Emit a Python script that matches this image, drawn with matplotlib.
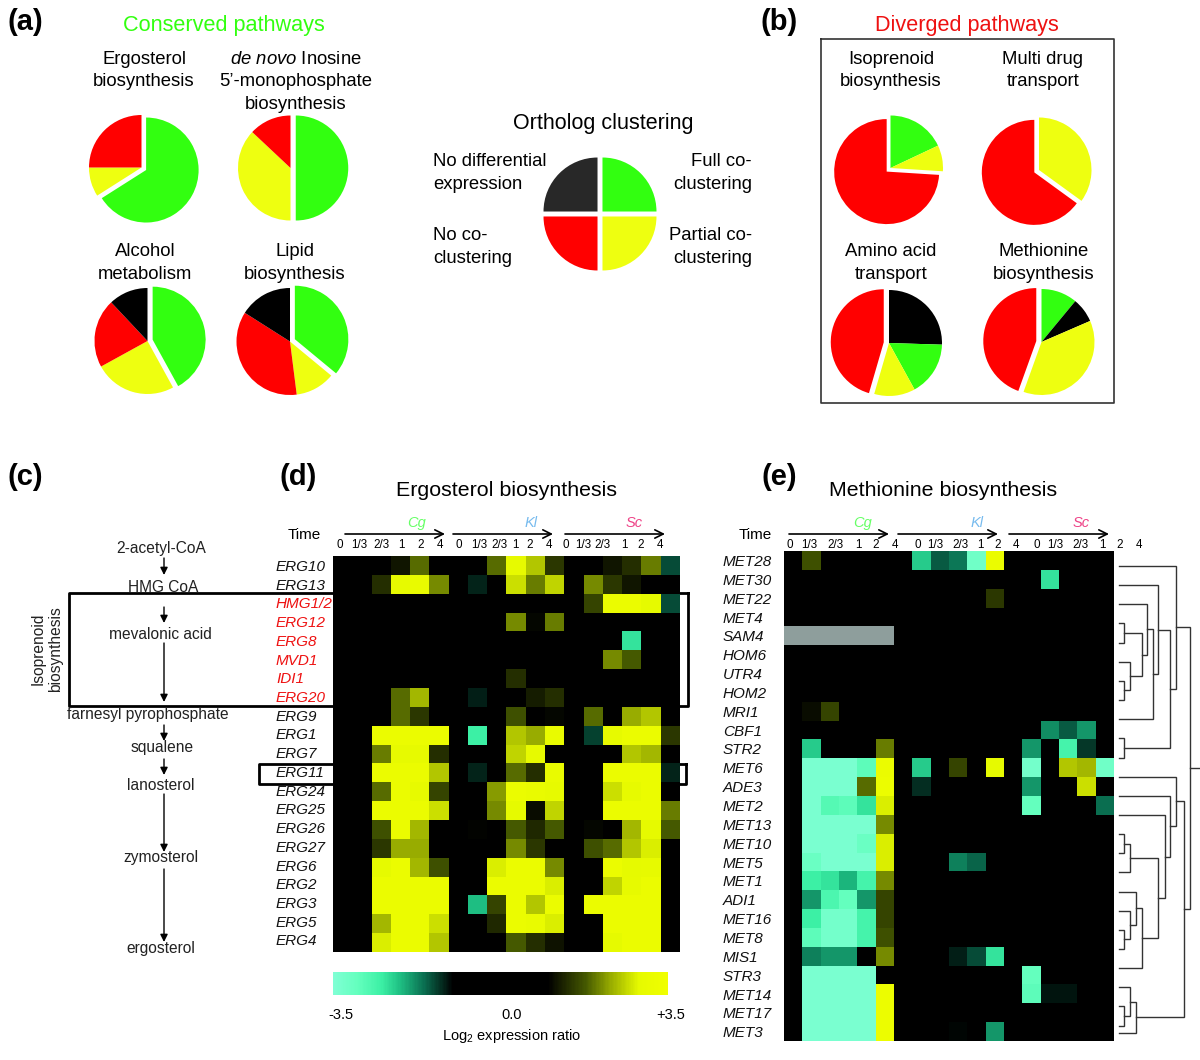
import numpy as np
import matplotlib
matplotlib.use("Agg")
import matplotlib.pyplot as plt
from matplotlib.cm import ScalarMappable
from matplotlib.colors import LinearSegmentedColormap, Normalize

plt.rcParams['font.family'] = ['Liberation Sans', 'DejaVu Sans']
plt.rcParams['mathtext.fontset'] = 'custom'
plt.rcParams['mathtext.rm'] = 'Liberation Sans'
plt.rcParams['mathtext.it'] = 'Liberation Sans:italic'
plt.rcParams['mathtext.bf'] = 'Liberation Sans:bold'

W, H = 1200, 1060

# ===== Data =====
GREEN, YELLOW, RED, BLACK = '#32FF10', '#EEFF10', '#FF0000', '#000000'

ergosterol_pie = [66, 9, 25]
inosine_pie = [50, 37, 13]
alcohol_pie = [42, 25, 21, 12]
lipid_pie = [36, 12, 36, 16]
isoprenoid_pie = [18, 8, 74]
multidrug_pie = [35, 65]
amino_pie = [25.5, 16.5, 12.5, 45.5]
methionine_pie = [11, 7.5, 37, 44.5]
legend_pie = [25, 25, 25, 25]

time_labels = ['0', '1/3', '2/3', '1', '2', '4'] * 3

erg_genes = ['ERG10', 'ERG13', 'HMG1/2', 'ERG12', 'ERG8', 'MVD1', 'IDI1', 'ERG20', 'ERG9', 'ERG1', 'ERG7',
             'ERG11', 'ERG24', 'ERG25', 'ERG26', 'ERG27', 'ERG6', 'ERG2', 'ERG3', 'ERG5', 'ERG4']
erg_red_genes = ['HMG1/2', 'ERG12', 'ERG8', 'MVD1', 'IDI1', 'ERG20']
erg_values = [
    [0, 0, 0, 1.2, 1.9, 0, 0, 0, 1.9, 3.0, 2.5, 1.5, 0, 0, 1.2, 1.4, 2.0, -1.4],
    [0, 0, 1.4, 3.0, 3.1, 2.1, 0, -1.2, 0, 2.7, 2.0, 2.6, 0, 2.1, 1.5, 1.2, 0, 0],
    [0, 0, 0, 0, 0, 0, 0, 0, 0, 0, 0, 0, 0, 1.6, 3.2, 3.2, 2.9, -1.4],
    [0, 0, 0, 0, 0, 0, 0, 0, 0, 2.1, 1.05, 2.0, 0, 0, 0, 0, 0, 0],
    [0, 0, 0, 0, 0, 0, 0, 0, 0, 0, 0, 0, 0, 0, 0, -2.4, 0, 0],
    [0, 0, 0, 0, 0, 0, 0, 0, 0, 0, 0, 0, 0, 0, 2.1, 1.8, 0, 0],
    [0, 0, 0, 0, 0, 0, 0, 0, 0, 1.4, 0, 0, 0, 0, 0, 0, 0, 0],
    [0, 0, 0, 1.9, 2.4, 0, 0, -1.15, 0, 0, 1.25, 1.4, 0, 0, 0, 0, 0, 0],
    [0, 0, 0, 1.9, 1.5, 0, 0, 0, 0, 1.7, 0, 1.05, 0, 1.9, 0, 2.3, 2.5, 0],
    [0, 0, 3.2, 3.2, 3.2, 3.2, 0, -2.5, 0, 2.5, 2.3, 3.1, 0, -1.35, 3.0, 3.2, 3.2, 1.5],
    [0, 0, 2.0, 3.0, 3.0, 1.4, 0, 0, 0, 2.6, 3.0, 0, 0, 0, 0, 2.5, 2.4, 0],
    [0, 0, 3.2, 3.2, 3.2, 2.5, 0, -1.2, 0, 1.9, 1.4, 3.1, 0, 0, 3.2, 3.2, 3.2, -1.2],
    [0, 0, 1.9, 3.2, 3.0, 1.6, 0, 0, 2.2, 3.2, 3.1, 3.0, 0, 0, 2.7, 3.0, 3.2, 0],
    [0, 0, 3.2, 3.2, 3.2, 2.7, 0, 0, 2.1, 2.9, 1.1, 2.6, 0, 0, 3.2, 3.2, 3.2, 2.0],
    [0, 0, 1.7, 3.2, 2.4, 0, 0, 1.03, 0, 1.8, 1.35, 1.8, 0, 1.05, 0, 2.4, 2.9, 1.8],
    [0, 0, 1.5, 2.3, 2.3, 0, 0, 0, 0, 2.1, 1.5, 0, 0, 1.7, 1.9, 2.5, 2.8, 0],
    [0, 0, 2.9, 3.2, 2.4, 1.7, 0, 0, 2.8, 3.2, 3.2, 2.1, 0, 0, 3.2, 2.9, 3.0, 0],
    [0, 0, 3.2, 3.2, 3.2, 3.2, 0, 0, 3.2, 3.2, 3.2, 2.8, 0, 0, 2.6, 3.0, 3.2, 0],
    [0, 0, 3.2, 3.2, 3.2, 3.2, 0, -2.1, 1.6, 3.2, 2.5, 3.2, 0, 3.2, 3.2, 3.2, 3.2, 0],
    [0, 0, 2.4, 3.2, 3.2, 2.7, 0, 0, 1.35, 3.2, 3.1, 2.8, 0, 0, 3.2, 3.2, 3.2, 0],
    [0, 0, 2.8, 3.2, 3.2, 2.5, 0, 0, 0, 1.8, 1.4, 1.15, 0, 0, 2.9, 3.2, 3.2, 0],
]

met_genes = ['MET28', 'MET30', 'MET22', 'MET4', 'SAM4', 'HOM6', 'UTR4', 'HOM2', 'MRI1', 'CBF1', 'STR2', 'MET6', 'ADE3',
             'MET2', 'MET13', 'MET10', 'MET5', 'MET1', 'ADI1', 'MET16', 'MET8', 'MIS1', 'STR3', 'MET14', 'MET17', 'MET3']
nan = float('nan')
met_values = [
    [0, 1.7, 0, 0, 0, 0, 0, -2.2, -1.5, -1.65, -3.2, 3.2, 0, 0, 0, 0, 0, 0],
    [0, 0, 0, 0, 0, 0, 0, 0, 0, 0, 0, 0, 0, 0, -2.4, 0, 0, 0],
    [0, 0, 0, 0, 0, 0, 0, 0, 0, 0, 0, 1.5, 0, 0, 0, 0, 0, 0],
    [0, 0, 0, 0, 0, 0, 0, 0, 0, 0, 0, 0, 0, 0, 0, 0, 0, 0],
    [nan, nan, nan, nan, nan, nan, 0, 0, 0, 0, 0, 0, 0, 0, 0, 0, 0, 0],
    [0, 0, 0, 0, 0, 0, 0, 0, 0, 0, 0, 0, 0, 0, 0, 0, 0, 0],
    [0, 0, 0, 0, 0, 0, 0, 0, 0, 0, 0, 0, 0, 0, 0, 0, 0, 0],
    [0, 0, 0, 0, 0, 0, 0, 0, 0, 0, 0, 0, 0, 0, 0, 0, 0, 0],
    [0, 1.1, 1.6, 0, 0, 0, 0, 0, 0, 0, 0, 0, 0, 0, 0, 0, 0, 0],
    [0, 0, 0, 0, 0, 0, 0, 0, 0, 0, 0, 0, 0, 0, -1.8, -1.5, -1.85, 0],
    [0, -2.2, 0, 0, 0, 2.0, 0, 0, 0, 0, 0, 0, 0, -1.85, 0, -2.6, -1.3, 0],
    [0, -3.4, -3.4, -3.4, -2.9, 3.2, 0, -2.2, 0, 1.6, 0, 2.9, 0, -3.3, 0, 2.5, 2.4, -3.2],
    [0, -3.4, -3.4, -3.4, 1.9, 3.3, 0, -1.25, 0, 0, 0, 0, 0, -1.85, 0, 0, 2.7, 0],
    [0, -3.4, -2.8, -2.9, -2.4, 2.8, 0, 0, 0, 0, 0, 0, 0, -3.0, 0, 0, 0, -1.6],
    [0, -3.4, -3.4, -3.4, -3.4, 2.1, 0, 0, 0, 0, 0, 0, 0, 0, 0, 0, 0, 0],
    [0, -3.4, -3.4, -3.4, -3.1, 2.8, 0, 0, 0, 0, 0, 0, 0, 0, 0, 0, 0, 0],
    [0, -3.1, -3.4, -3.4, -3.4, 2.8, 0, 0, 0, -1.7, -1.55, 0, 0, 0, 0, 0, 0, 0],
    [0, -2.5, -2.4, -2.05, -2.6, 2.1, 0, 0, 0, 0, 0, 0, 0, 0, 0, 0, 0, 0],
    [0, -1.85, -2.7, -3.0, -1.85, 1.6, 0, 0, 0, 0, 0, 0, 0, 0, 0, 0, 0, 0],
    [0, -2.5, -3.3, -3.3, -2.6, 1.6, 0, 0, 0, 0, 0, 0, 0, 0, 0, 0, 0, 0],
    [0, -2.9, -3.3, -3.3, -2.6, 1.7, 0, 0, 0, 0, 0, 0, 0, 0, 0, 0, 0, 0],
    [0, -1.7, -1.85, -1.85, 0, 2.1, 0, 0, 0, -1.15, -1.4, -2.4, 0, 0, 0, 0, 0, 0],
    [0, -3.4, -3.4, -3.4, -3.4, 0, 0, 0, 0, 0, 0, 0, 0, -3.0, 0, 0, 0, 0],
    [0, -3.4, -3.4, -3.4, -3.4, 3.3, 0, 0, 0, 0, 0, 0, 0, -2.9, -1.1, -1.1, 0, 0],
    [0, -3.4, -3.4, -3.4, -3.4, 3.3, 0, 0, 0, 0, 0, 0, 0, 0, 0, 0, 0, 0],
    [0, -3.4, -3.4, -3.4, -3.4, 3.3, 0, 0, 0, -1.03, 0, -1.85, 0, 0, 0, 0, 0, 0],
]

# dendrogram merges: (child, child, height), a child is a gene or an earlier merge number
met_merges = [
    ('MET4', 'SAM4', 5.3), ('UTR4', 'HOM2', 5.3), ('HOM6', 1, 11), (0, 2, 22.7), ('MET22', 3, 28),
    (4, 'MRI1', 33.7), ('MET30', 5, 39.3), ('CBF1', 'STR2', 5.3), (6, 7, 51.3), ('MET28', 8, 57),
    ('MET13', 'MET10', 5.3), (10, 'MET5', 11), ('MET16', 'MET8', 5.3), ('ADI1', 12, 11), ('MET1', 13, 16.7),
    (14, 'MIS1', 22.7), (11, 15, 39.3), ('MET2', 16, 45.7), ('ADE3', 17, 51.3), ('MET6', 18, 56.7),
    ('MET14', 'MET17', 5.3), ('STR3', 20, 11), (21, 'MET3', 16.7), (19, 22, 65.3), (9, 23, 71),
]

pathway_steps = ['2-acetyl-CoA', 'HMG CoA', 'mevalonic acid', 'farnesyl pyrophosphate', 'squalene', 'lanosterol',
                 'zymosterol', 'ergosterol']

# ===== Figure =====
fig = plt.figure(figsize=(W / 100, H / 100), dpi=100, facecolor='white')


def px_axes(x0, y0, x1, y1, zorder=1):
    ax = fig.add_axes([x0 / W, 1 - y1 / H, (x1 - x0) / W, (y1 - y0) / H], zorder=zorder)
    return ax


# Overlay in pixel coordinates for labels, arrows and boxes
under = px_axes(0, 0, W, H, zorder=0)
under.set_xlim(0, W)
under.set_ylim(H, 0)
under.axis('off')
over = px_axes(0, 0, W, H, zorder=3)
over.set_xlim(0, W)
over.set_ylim(H, 0)
over.axis('off')


def label(x, y, s, size=13.3, ha='center', **kw):
    over.text(x, y, s, fontsize=size, ha=ha, va='center', **kw)


def two_lines(x, y, s, size=13.3, ha='center', step=22.4):
    for i, line in enumerate(s.split('\n')):
        label(x, y + i * step, line, size=size, ha=ha)


def draw_pie(cx, cy, r, values, colors, explode):
    half = r * 1.25
    ax = px_axes(cx - half, cy - half, cx + half, cy + half, zorder=2)
    ax.pie(values, colors=colors, explode=explode, startangle=90, counterclock=False, radius=1,
           wedgeprops={'linewidth': 0})
    ax.set_xlim(-1.25, 1.25)
    ax.set_ylim(-1.25, 1.25)


def arrow(x0, y0, x1, y1, style='-|>', scale=11, lw=1.0):
    over.annotate('', xy=(x1, y1), xytext=(x0, y0),
                  arrowprops=dict(arrowstyle=style, mutation_scale=scale, lw=lw, color='black',
                                  shrinkA=0, shrinkB=0))


# ===== Panels (a), (b) and legend =====
label(25, 22, '(a)', size=21, weight='bold')
label(779, 22, '(b)', size=21, weight='bold')
label(25, 477, '(c)', size=21, weight='bold')
label(298, 477, '(d)', size=21, weight='bold')
label(779, 477, '(e)', size=21, weight='bold')

label(224, 25, 'Conserved pathways', size=15.6, color=GREEN)
label(967, 25, 'Diverged pathways', size=15.6, color='#EE1111')
label(603, 124, 'Ortholog clustering', size=15.5)

two_lines(144, 59.5, 'Ergosterol\nbiosynthesis')
label(295.5, 59.5, r'$\it{de\ novo}$ Inosine')
two_lines(295.5, 82, "5\u2019-monophosphate\nbiosynthesis")
two_lines(145, 252, 'Alcohol\nmetabolism')
two_lines(295, 252, 'Lipid\nbiosynthesis')
two_lines(891, 59.5, 'Isoprenoid\nbiosynthesis')
two_lines(1043, 59.5, 'Multi drug\ntransport')
two_lines(891, 252, 'Amino acid\ntransport')
two_lines(1044, 252, 'Methionine\nbiosynthesis')

two_lines(433, 162, 'No differential\nexpression', ha='left')
two_lines(752, 162, 'Full co-\nclustering', ha='right')
two_lines(433, 236, 'No co-\nclustering', ha='left')
two_lines(752, 236, 'Partial co-\nclustering', ha='right')

draw_pie(141.5, 167.5, 52.5, ergosterol_pie, [GREEN, YELLOW, RED], [0.1, 0, 0])
draw_pie(290.5, 168, 52.5, inosine_pie, [GREEN, YELLOW, RED], [0.1, 0, 0])
draw_pie(147.5, 341, 53, alcohol_pie, [GREEN, YELLOW, RED, BLACK], [0.1, 0, 0, 0])
draw_pie(290, 341.5, 53.5, lipid_pie, [GREEN, YELLOW, RED, BLACK], [0.1, 0, 0, 0])
draw_pie(890.5, 168, 52.5, isoprenoid_pie, [GREEN, YELLOW, RED], [0, 0, 0.1])
draw_pie(1039, 170, 52.5, multidrug_pie, [YELLOW, RED], [0, 0.1])
draw_pie(889, 343, 53, amino_pie, [BLACK, GREEN, YELLOW, RED], [0, 0, 0, 0.1])
draw_pie(1041.5, 342, 53, methionine_pie, [GREEN, BLACK, YELLOW, RED], [0, 0, 0, 0.1])
draw_pie(600, 214, 54, legend_pie, [GREEN, YELLOW, RED, '#282828'], [0.065, 0.065, 0.065, 0.065])

under.plot([821, 1114, 1114, 821, 821], [39, 39, 403, 403, 39], color='#333333', lw=1.2)

# ===== Panel (c) =====
step_x = [161, 163.5, 160, 147.5, 162.5, 161, 161, 161]
step_y = [548.5, 587.5, 634.5, 714.5, 747.5, 785.5, 857.5, 948.5]
for x, y, s in zip(step_x, step_y, pathway_steps):
    label(x, y, s, size=11.2, color='#222222')

arrow_y = [(558, 575), (607, 623), (643, 702), (725, 741), (759, 775), (794, 852), (869, 942)]
for y0, y1 in arrow_y:
    arrow(164, y0, 164, y1)

label(38, 649, 'Isoprenoid', size=11.2, rotation=90, color='#222222')
label(56, 649, 'biosynthesis', size=11.2, rotation=90, color='#222222')

under.plot([688, 68.5, 68.5, 688, 688], [593, 593, 706, 706, 593], color='black', lw=2)
under.plot([686, 259, 259, 686, 686], [763.5, 763.5, 784, 784, 763.5], color='black', lw=2)

# ===== Heatmaps =====
expr_cmap = LinearSegmentedColormap.from_list('expr', [
    (0.0, '#7FFFD4'), (0.0714, '#64FFBE'), (0.1429, '#3CF0A5'), (0.2, '#1EBE82'), (0.2714, '#0A6E50'),
    (0.3571, '#000000'), (0.6429, '#000000'), (0.7571, '#465A00'), (0.8286, '#96AA00'), (0.9143, '#E6FA00'),
    (1.0, '#F0FF00')])
expr_cmap.set_bad('#8E9E9C')
expr_norm = Normalize(-3.5, 3.5)


def draw_heatmap(x0, y0, x1, y1, values):
    ax = px_axes(x0, y0, x1, y1, zorder=1)
    ax.imshow(np.array(values, dtype=float), cmap=expr_cmap, norm=expr_norm, aspect='auto', interpolation='nearest')
    ax.axis('off')


# (d)
draw_heatmap(333, 556, 680, 952, erg_values)
label(507, 491, 'Ergosterol biosynthesis', size=15.4)
label(304, 535, 'Time', size=11)
for i, gene in enumerate(erg_genes):
    color = '#EE1111' if gene in erg_red_genes else '#111111'
    label(276, 567 + i * 18.72, gene, size=11, ha='left', style='italic', color=color)

tick_x_d = [340, 359, 381, 401, 421, 440, 459, 479, 499, 515, 530, 549, 566, 583, 602, 624, 641, 660]
for x, s in zip(tick_x_d, time_labels):
    label(x, 545.5, s, size=8.4)
for x0, x1 in [(345, 445), (453, 553), (565, 665)]:
    arrow(x0, 534, x1, 534, style='->', scale=15, lw=1.2)
label(417, 523, 'Cg', size=10.5, style='italic', color='#66FF66')
label(531, 523, 'Kl', size=10.5, style='italic', color='#77BBEE')
label(634, 523, 'Sc', size=10.5, style='italic', color='#EE4488')

# colour bar
cax = px_axes(333, 972, 668, 995, zorder=1)
cbar = fig.colorbar(ScalarMappable(norm=expr_norm, cmap=expr_cmap), cax=cax, orientation='horizontal')
cbar.set_ticks([])
cbar.outline.set_visible(False)
label(341, 1015, '-3.5', size=10.5)
label(512, 1015, '0.0', size=10.5)
label(671, 1015, '+3.5', size=10.5)
label(512, 1036, 'Log$_2$ expression ratio', size=10.5)

# (e)
draw_heatmap(784, 551, 1114, 1041, met_values)
label(943, 491, 'Methionine biosynthesis', size=15.4)
label(755, 535, 'Time', size=11)
for i, gene in enumerate(met_genes):
    label(723, 562 + i * 18.85, gene, size=11, ha='left', style='italic', color='#111111')

tick_x_e = [790, 809, 835, 858, 876, 895, 918, 935, 960, 980, 998, 1016, 1037, 1055, 1080, 1102, 1120, 1139]
for x, s in zip(tick_x_e, time_labels):
    label(x, 545.5, s, size=8.4)
for x0, x1 in [(789, 889), (898, 998), (1009, 1109)]:
    arrow(x0, 534, x1, 534, style='->', scale=15, lw=1.2)
label(863, 523, 'Cg', size=10.5, style='italic', color='#66FF66')
label(977, 523, 'Kl', size=10.5, style='italic', color='#77BBEE')
label(1081, 523, 'Sc', size=10.5, style='italic', color='#EE4488')

# dendrogram, grown from the leaves through the merge table
LEAF_X = 1119
leaf_y = {gene: 566 + 19.15 * i for i, gene in enumerate(met_genes)}
leaf_y['MET3'] = 1033
node_pos = []


def node(child):
    if isinstance(child, str):
        return 0.0, leaf_y[child]
    return node_pos[child]


for a, b, height in met_merges:
    ha_, ya = node(a)
    hb, yb = node(b)
    over.plot(LEAF_X + np.array([ha_, height, height, hb]), [ya, ya, yb, yb], color='#333333', lw=1, solid_joinstyle='miter')
    node_pos.append((height, (ya + yb) / 2))

root_h, root_y = node_pos[-1]
over.plot([LEAF_X + root_h, LEAF_X + root_h + 10], [root_y, root_y], color='#333333', lw=1)

fig.savefig('out.png', dpi=100)
